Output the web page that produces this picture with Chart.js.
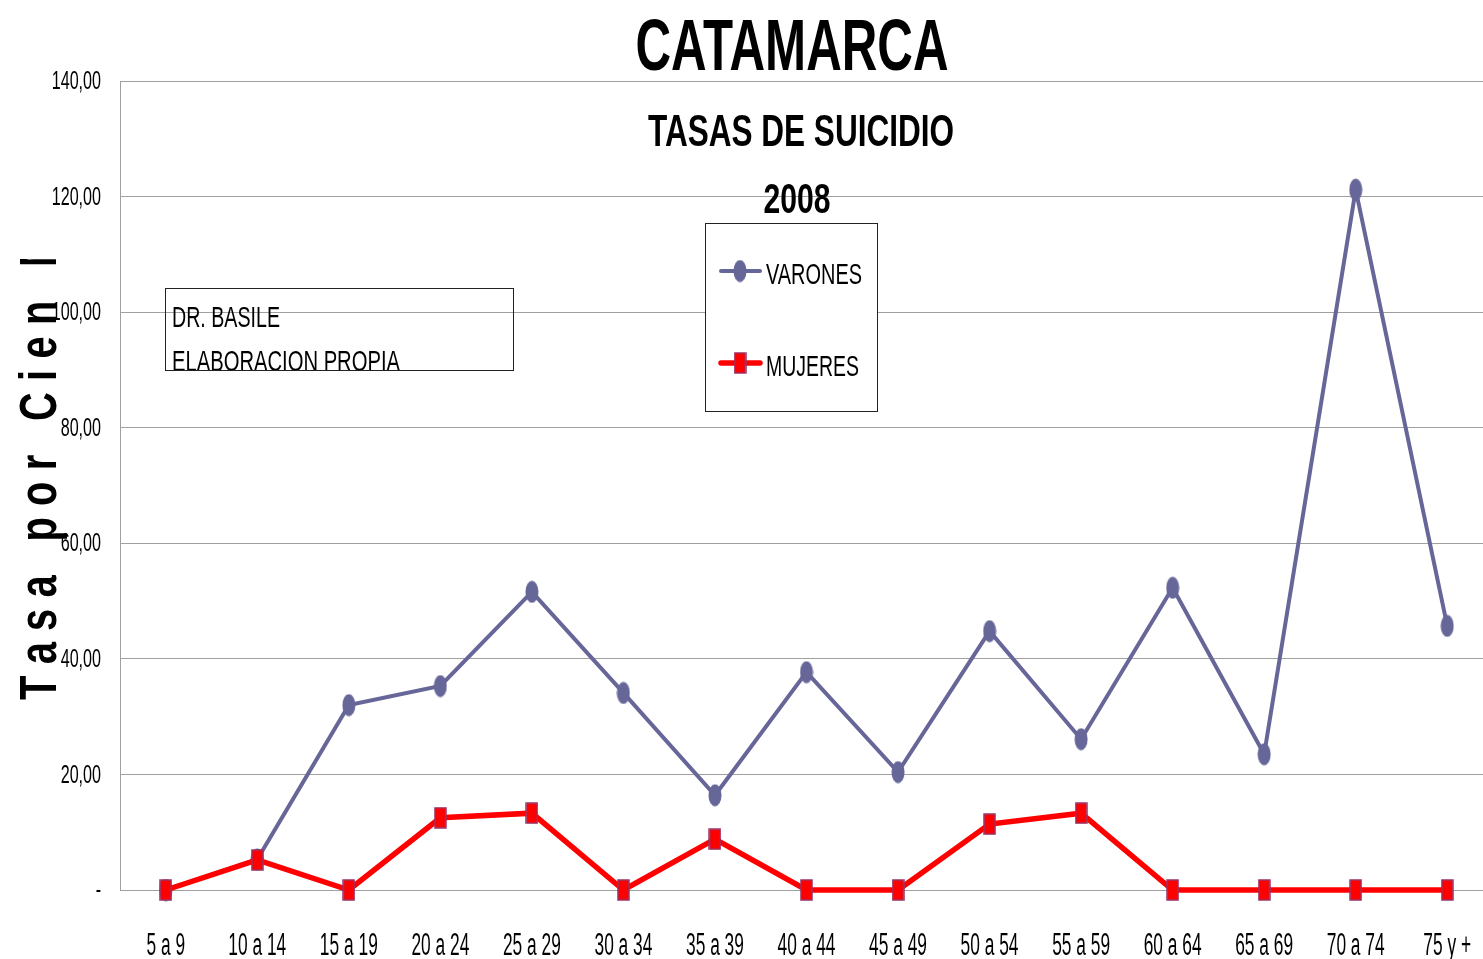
<!DOCTYPE html>
<html>
<head>
<meta charset="utf-8">
<script src="https://cdn.jsdelivr.net/npm/chart.js@4"></script>
<style>
  html, body { margin: 0; padding: 0; background: #fff; overflow: hidden; }
  #wrap { width: 1494px; height: 959px; }
</style>
</head>
<body>
<div id="wrap"><canvas id="myChart" width="1494" height="959"></canvas></div>
<script>
// data
const ageGroups = ['5 a 9', '10 a 14', '15 a 19', '20 a 24', '25 a 29', '30 a 34', '35 a 39', '40 a 44',
  '45 a 49', '50 a 54', '55 a 59', '60 a 64', '65 a 69', '70 a 74', '75 y +'];
const varones = [0, 5.3, 32.0, 35.3, 51.6, 34.1, 16.4, 37.7, 20.4, 44.8, 26.1, 52.3, 23.5, 121.2, 45.7];
const mujeres = [0, 5.2, 0, 12.5, 13.3, 0, 8.8, 0, 0, 11.4, 13.3, 0, 0, 0, 0];
const yTicks = [0, 20, 40, 60, 80, 100, 120, 140];

const SANS = "'Liberation Sans', Arial, sans-serif";
const BLUE = '#666699';
const RED = '#ff0000';

const fmtY = v => v === 0 ? '-' : v.toFixed(2).replace('.', ',');

// marker images
function ellipseMarker() {
  const c = document.createElement('canvas');
  c.width = 14; c.height = 23;
  const g = c.getContext('2d');
  g.fillStyle = BLUE;
  g.beginPath();
  g.ellipse(7, 11.5, 6.5, 11, 0, 0, Math.PI * 2);
  g.fill();
  return c;
}
function rectMarker() {
  const c = document.createElement('canvas');
  c.width = 13; c.height = 22;
  const g = c.getContext('2d');
  g.fillStyle = RED;
  g.fillRect(1, 1, 11, 20);
  g.strokeStyle = '#993366';
  g.lineWidth = 1.5;
  g.strokeRect(1, 1, 11, 20);
  return c;
}
const blueMark = ellipseMarker();
const redMark = rectMarker();

// the original uses a very condensed face, so text is squeezed horizontally
function fitText(ctx, text, x, y, font, width, align) {
  ctx.save();
  ctx.font = font;
  const w = ctx.measureText(text).width;
  ctx.translate(x, y);
  ctx.scale(width / w, 1);
  ctx.textAlign = align || 'left';
  ctx.textBaseline = 'alphabetic';
  ctx.fillStyle = '#000';
  ctx.fillText(text, 0, 0);
  ctx.restore();
}
function squeezeText(ctx, text, x, y, font, sx, align, baseline) {
  ctx.save();
  ctx.font = font;
  ctx.translate(x, y);
  ctx.scale(sx, 1);
  ctx.textAlign = align;
  ctx.textBaseline = baseline;
  ctx.fillStyle = '#000';
  ctx.fillText(text, 0, 0);
  ctx.restore();
}

const overlay = {
  id: 'overlay',
  beforeDatasetsDraw(chart) {
    const ctx = chart.ctx;
    // y axis title, rotated and cut at the top like the original
    ctx.save();
    ctx.beginPath();
    ctx.rect(0, 259, 118, 700);
    ctx.clip();
    ctx.translate(56, 700);
    ctx.rotate(-Math.PI / 2);
    ctx.font = 'bold 51px ' + SANS;
    ctx.fillStyle = '#000';
    ctx.textBaseline = 'alphabetic';
    const title = 'Tasa por Cien Mil';
    const sx = 0.78;
    const prefix = 'Tasa por Cien ';
    let natural = 0;
    for (const ch of prefix) natural += ctx.measureText(ch).width * sx;
    const gap = (433 - natural) / prefix.length;
    let pos = 0;
    for (const ch of title) {
      ctx.save();
      ctx.translate(pos, 0);
      ctx.scale(sx, 1);
      ctx.fillText(ch, 0, 0);
      ctx.restore();
      pos += ctx.measureText(ch).width * sx + gap;
    }
    ctx.restore();

    // source box
    ctx.save();
    ctx.strokeStyle = '#222';
    ctx.lineWidth = 1;
    ctx.strokeRect(165.5, 288.5, 348, 82);
    ctx.beginPath();
    ctx.rect(165, 288, 349, 82);
    ctx.clip();
    fitText(ctx, 'DR. BASILE', 172, 327, '30px ' + SANS, 108, 'left');
    fitText(ctx, 'ELABORACION PROPIA', 172, 371, '30px ' + SANS, 228, 'left');
    ctx.restore();
  },
  afterDraw(chart) {
    const ctx = chart.ctx;
    const xs = chart.scales.x;
    const ys = chart.scales.y;

    // tick labels, drawn from the scales' own ticks
    xs.ticks.forEach((t, i) => {
      squeezeText(ctx, xs.getLabelForValue(t.value), xs.getPixelForTick(i), 955,
        '31px ' + SANS, 0.56, 'center', 'alphabetic');
    });
    ys.ticks.forEach((t, i) => {
      squeezeText(ctx, fmtY(t.value), 101, ys.getPixelForTick(i) + 1,
        '26px ' + SANS, 0.62, 'right', 'middle');
    });

    // titles
    fitText(ctx, 'CATAMARCA', 792, 70, 'bold 73px ' + SANS, 313, 'center');
    fitText(ctx, 'TASAS DE SUICIDIO', 801, 146, 'bold 45px ' + SANS, 306, 'center');
    fitText(ctx, '2008', 797, 213, 'bold 43px ' + SANS, 67, 'center');

    // legend box
    ctx.save();
    ctx.fillStyle = '#fff';
    ctx.fillRect(705, 223, 172, 188);
    ctx.strokeStyle = '#222';
    ctx.lineWidth = 1;
    ctx.strokeRect(705.5, 223.5, 172, 188);
    const items = [
      { ds: chart.data.datasets[0], y: 271, mark: blueMark, w: 96 },
      { ds: chart.data.datasets[1], y: 363, mark: redMark, w: 93 }
    ];
    for (const it of items) {
      ctx.strokeStyle = it.ds.borderColor;
      ctx.lineWidth = it.ds.borderWidth;
      ctx.lineCap = 'round';
      ctx.beginPath();
      ctx.moveTo(721, it.y);
      ctx.lineTo(760, it.y);
      ctx.stroke();
      ctx.drawImage(it.mark, 740 - it.mark.width / 2, it.y - it.mark.height / 2);
      fitText(ctx, it.ds.label, 766, it.y + 13, '30px ' + SANS, it.w, 'left');
    }
    ctx.restore();
  }
};

const ctx = document.getElementById('myChart').getContext('2d');
new Chart(ctx, {
  type: 'line',
  data: {
    labels: ageGroups,
    datasets: [{
      label: 'VARONES',
      data: varones,
      borderColor: BLUE,
      backgroundColor: BLUE,
      borderWidth: 4,
      pointStyle: blueMark,
      pointRadius: 6,
      tension: 0,
      clip: false,
      order: 2
    }, {
      label: 'MUJERES',
      data: mujeres,
      borderColor: RED,
      backgroundColor: RED,
      borderWidth: 5.5,
      pointStyle: redMark,
      pointRadius: 6,
      tension: 0,
      clip: false,
      order: 1
    }]
  },
  options: {
    responsive: false,
    animation: false,
    layout: { autoPadding: false, padding: { top: 81, right: 1, left: 0, bottom: 0 } },
    plugins: {
      legend: { display: false },
      title: { display: false },
      tooltip: { enabled: false }
    },
    scales: {
      x: {
        type: 'category',
        offset: true,
        grid: { display: false, drawTicks: false },
        border: { display: true, color: '#a0a0a0', width: 1 },
        ticks: { display: false, autoSkip: false },
        afterFit(scale) {
          scale.height = 69;
          scale.paddingLeft = 0;
          scale.paddingRight = 0;
        }
      },
      y: {
        min: 0,
        max: 140,
        afterBuildTicks(scale) { scale.ticks = yTicks.map(v => ({ value: v })); },
        grid: { color: '#a0a0a0', lineWidth: 1, drawTicks: false },
        border: { display: true, color: '#a0a0a0', width: 1 },
        ticks: { display: false },
        afterFit(scale) {
          scale.width = 120;
          scale.paddingTop = 0;
          scale.paddingBottom = 0;
        }
      }
    }
  },
  plugins: [overlay]
});
</script>
</body>
</html>
